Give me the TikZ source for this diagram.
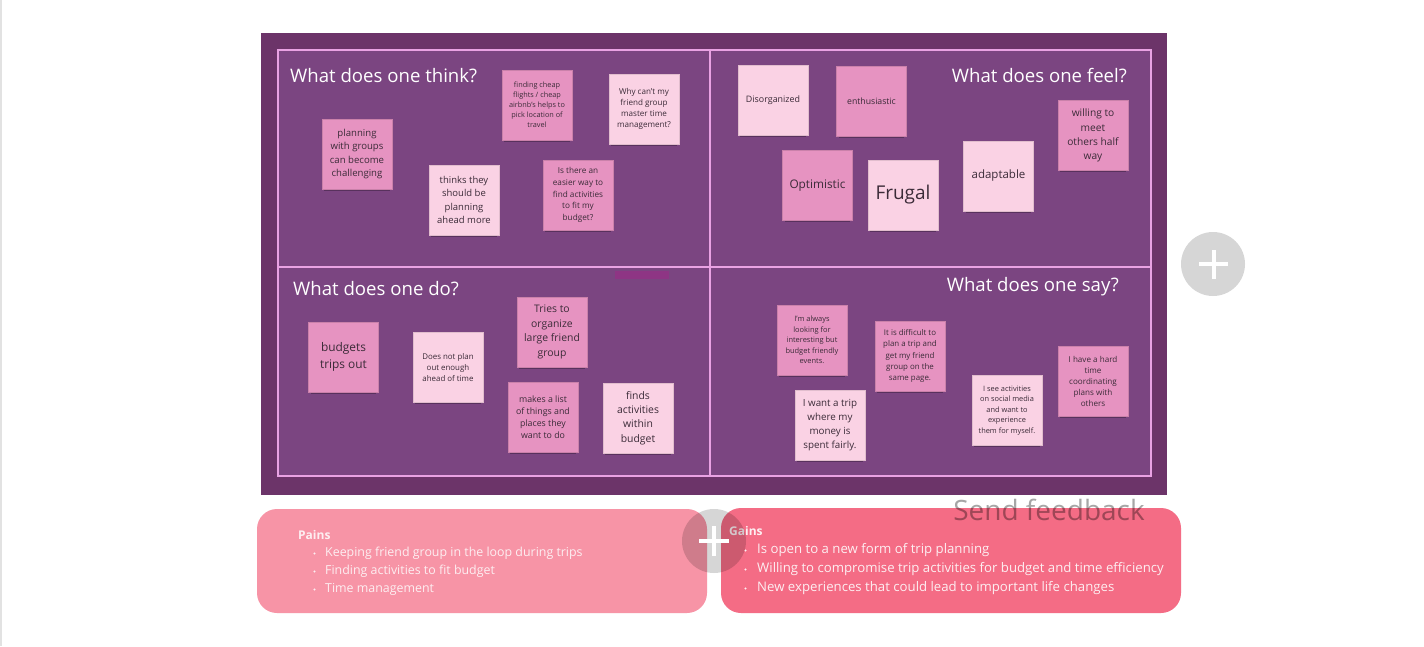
\documentclass[tikz,border=0pt]{standalone}
\usepackage{fontspec}
\setmainfont{Open Sans}
\usetikzlibrary{shadows}

\definecolor{boardouter}{HTML}{6C3469}
\definecolor{boardinner}{HTML}{7B4581}
\definecolor{framepink}{HTML}{E9A2E3}
\definecolor{barmag}{HTML}{8E3584}
\definecolor{notedark}{HTML}{E693C1}
\definecolor{notelight}{HTML}{FAD2E4}
\definecolor{notetext}{HTML}{3B2B38}
\definecolor{painfill}{HTML}{F794A6}
\definecolor{gainfill}{HTML}{F46C85}
\definecolor{bandtext}{HTML}{FDEEF1}
\definecolor{edgegray}{HTML}{E2E2E2}

\newcommand\fsz[2]{\fontsize{#1}{#2}\selectfont}

\tikzset{
  note/.style={align=center, text=notetext, inner sep=0pt,
    minimum width=70pt, minimum height=70pt, line width=0.6pt,
    drop shadow={shadow xshift=0pt, shadow yshift=-4pt, shadow scale=0.94,
      opacity=0.28, fill=black, draw=none}},
  dark/.style={note, fill=notedark, draw=notedark!88!black},
  light/.style={note, fill=notelight, draw=notelight!90!black},
  quadtitle/.style={text=white, inner sep=0pt, font=\fsz{18.6}{23}},
  bandhead/.style={text=bandtext, inner sep=0pt, anchor=west, font=\fsz{12}{14}\bfseries},
  painitem/.style={text=bandtext, inner sep=0pt, anchor=west, font=\fsz{12.4}{15}},
  gainitem/.style={text=bandtext, inner sep=0pt, anchor=west, font=\fsz{13.2}{15}},
  plusdisc/.style={fill=black, fill opacity=0.16},
  plusbar/.style={draw=white, line width=4pt},
}

\begin{document}
\begin{tikzpicture}[x=1pt,y=-1pt]
\useasboundingbox (0,0) rectangle (1424,646);
\fill[white] (0,0) rectangle (1424,646);
\draw[edgegray, line width=1.5pt] (1,0) -- (1,646);

% board with its four quadrants
\fill[boardouter] (261,33) rectangle (1167,495);
\fill[boardinner] (278,50) rectangle (1151,476);
\draw[framepink, line width=2pt] (278,50) rectangle (1151,476);
\draw[framepink, line width=2pt] (710,50) -- (710,476);
\draw[framepink, line width=2pt] (278,267) -- (1151,267);
\fill[barmag] (615,271) rectangle (669,279);

% quadrant titles
\node[quadtitle, anchor=west] (tthink) at (290,76) {What does one think?};
\node[quadtitle, anchor=east] (tfeel) at (1127,76) {What does one feel?};
\node[quadtitle, anchor=west] (tdo) at (293,289) {What does one do?};
\node[quadtitle, anchor=east] (tsay) at (1119,287) {What does one say?};

% think
\node[dark, font=\fsz{9.6}{13.3}] (n1) at (357,154) {planning\\with groups\\can become\\challenging};
\node[dark, font=\fsz{7.3}{10}] (n2) at (537,105) {finding cheap\\flights / cheap\\airbnb’s helps to\\pick location of\\travel};
\node[light, font=\fsz{8.1}{11}] (n3) at (644,109) {Why can’t my\\friend group\\master time\\management?};
\node[light, font=\fsz{9.5}{13.3}] (n4) at (464,200) {thinks they\\should be\\planning\\ahead more};
\node[dark, font=\fsz{8.2}{11.6}] (n5) at (578,195) {Is there an\\easier way to\\find activities\\to fit my\\budget?};

% feel
\node[light, font=\fsz{8.9}{10}] (f1) at (773,100) {Disorganized};
\node[dark, font=\fsz{8.7}{10}] (f2) at (871.5,101) {enthusiastic};
\node[dark, font=\fsz{11.8}{13}] (f3) at (817.5,185.5) {Optimistic};
\node[light, font=\fsz{19}{22}] (f4) at (903,195) {Frugal};
\node[light, font=\fsz{11.5}{13}] (f5) at (998.5,176) {adaptable};
\node[dark, font=\fsz{10.2}{14.2}] (f6) at (1093,135.5) {willing to\\meet\\others half\\way};

% do
\node[dark, font=\fsz{11.9}{17}] (d1) at (343.5,357) {budgets\\trips out};
\node[light, font=\fsz{7.9}{11}] (d2) at (448,367.5) {Does not plan\\out enough\\ahead of time};
\node[dark, font=\fsz{10.4}{14.6}] (d3) at (552,332) {Tries to\\organize\\large friend\\group};
\node[dark, font=\fsz{8.8}{12}] (d4) at (543,417.5) {makes a list\\of things and\\places they\\want to do};
\node[light, font=\fsz{10.4}{14.4}] (d5) at (638,418) {finds\\activities\\within\\budget};

% say
\node[dark, font=\fsz{7.45}{10.5}] (s1) at (812,340) {I’m always\\looking for\\interesting but\\budget friendly\\events.};
\node[dark, font=\fsz{7.9}{11.3}] (s2) at (910,356) {It is difficult to\\plan a trip and\\get my friend\\group on the\\same page.};
\node[light, font=\fsz{9.8}{13.8}] (s3) at (830,425) {I want a trip\\where my\\money is\\spent fairly.};
\node[light, font=\fsz{7.4}{10.5}] (s4) at (1007,410.5) {I see activities\\on social media\\and want to\\experience\\them for myself.};
\node[dark, font=\fsz{8.1}{11.2}] (s5) at (1093,381.5) {I have a hard\\time\\coordinating\\plans with\\others};

% pains and gains
\fill[painfill, rounded corners=20pt] (257,509) rectangle (707,613);
\fill[gainfill, rounded corners=20pt] (721,508) rectangle (1181,613);

\node[bandhead] (ph) at (298,535) {Pains};
\foreach \yy/\txt [count=\i] in {553.5/Keeping friend group in the loop during trips,
    571.5/Finding activities to fit budget, 589.5/Time management} {
  \fill[bandtext] (314.5,\yy) circle (1.2pt);
  \node[painitem] (p\i) at (325,\yy) {\txt};
}
\node[bandhead] (gh) at (729,531) {Gains};
\foreach \yy/\txt [count=\i] in {550.5/Is open to a new form of trip planning,
    569.5/Willing to compromise trip activities for budget and time efficiency,
    588.5/New experiences that could lead to important life changes} {
  \fill[bandtext] (745.5,\yy) circle (1.2pt);
  \node[gainitem] (g\i) at (757,\yy) {\txt};
}

\node[text=black, text opacity=0.35, inner sep=0pt, font=\fsz{28}{32}] (fb) at (1049,510) {Send feedback};

% add buttons
\fill[plusdisc] (1213,264) circle (32pt);
\draw[plusbar] (1199,264) -- (1228,264) (1213.5,250) -- (1213.5,279);
\fill[plusdisc] (714,541) circle (32pt);
\draw[plusbar] (699,541) -- (729,541) (714,526) -- (714,556);
\end{tikzpicture}
\end{document}
